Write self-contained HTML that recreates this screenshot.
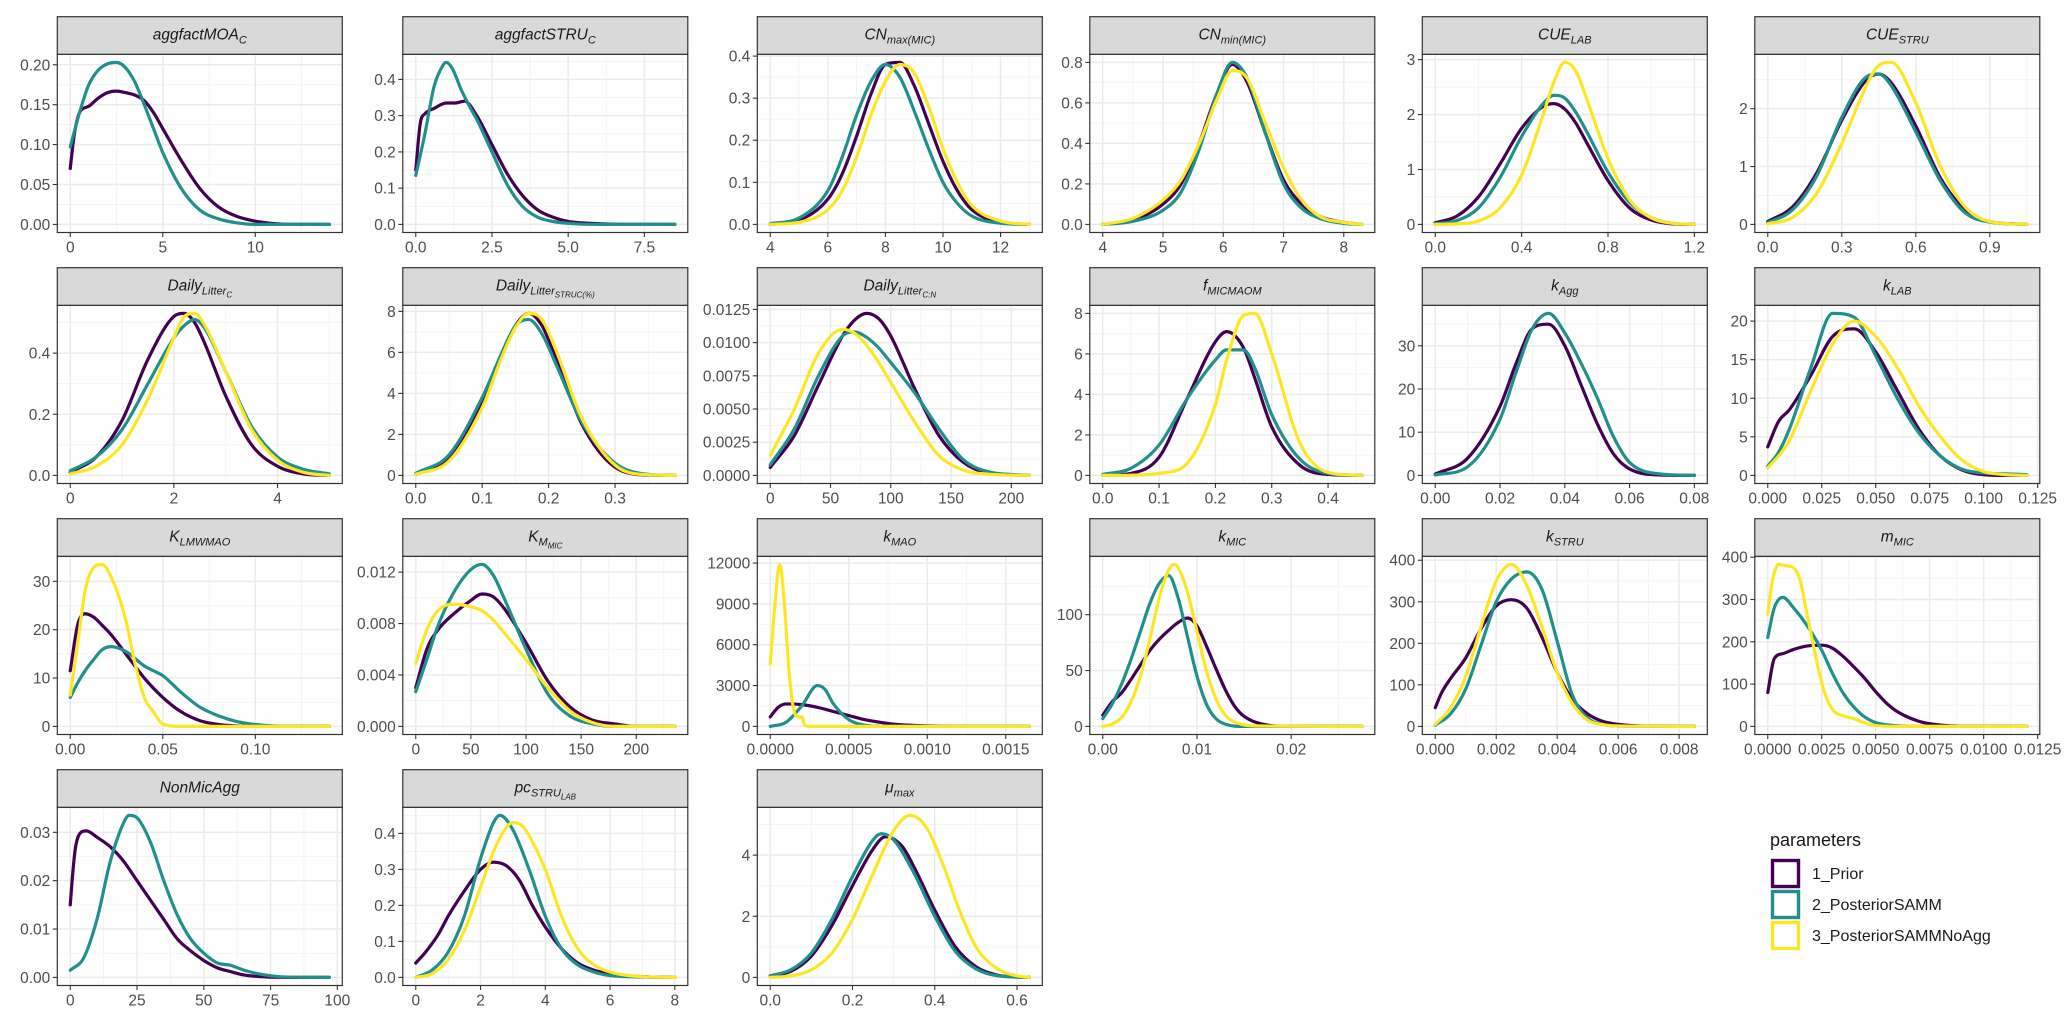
<!DOCTYPE html>
<html><head><meta charset="utf-8"><title>Parameter densities</title>
<style>
html,body{margin:0;padding:0;background:#fff;}
svg{display:block;font-family:"Liberation Sans",Arial,sans-serif;}
</style></head>
<body>
<svg id="chart" width="2067" height="1022" viewBox="0 0 2067 1022" xmlns="http://www.w3.org/2000/svg">
<rect x="0" y="0" width="2067" height="1022" fill="#fff"/>
<g id="panels"></g>
<g id="legend">
  <text x="1770" y="846" font-size="18" fill="#1a1a1a">parameters</text>
  <g>
    <rect x="1772.5" y="860.5" width="26" height="26" fill="#fff" stroke="#440154" stroke-width="3.4"/>
    <text x="1812" y="879" font-size="16" fill="#1a1a1a">1_Prior</text>
  </g>
  <g>
    <rect x="1772.5" y="891.5" width="26" height="26" fill="#fff" stroke="#21908C" stroke-width="3.4"/>
    <text x="1812" y="910" font-size="16" fill="#1a1a1a">2_PosteriorSAMM</text>
  </g>
  <g>
    <rect x="1772.5" y="922.5" width="26" height="26" fill="#fff" stroke="#FDE725" stroke-width="3.4"/>
    <text x="1812" y="941" font-size="16" fill="#1a1a1a">3_PosteriorSAMMNoAgg</text>
  </g>
</g>
</svg>
<script>
// ---------- data ----------
const seriesNames = ["1_Prior","2_PosteriorSAMM","3_PosteriorSAMMNoAgg"];
const seriesColors = ["#440154","#21908C","#FDE725"];

// P1 aggfactMOA_C
const p1_prior_x=[0,0.2,0.5,1,1.5,2,2.5,3,3.5,4,4.5,5,6,7,8,9,10,11,12,14];
const p1_prior_y=[0.07,0.11,0.14,0.148,0.158,0.165,0.167,0.165,0.162,0.155,0.14,0.12,0.08,0.045,0.022,0.01,0.004,0.001,0,0];
const p1_samm_x=[0,0.5,1,1.5,2,2.5,3,3.5,4,4.5,5,6,7,8,9,10,14];
const p1_samm_y=[0.097,0.14,0.175,0.193,0.201,0.203,0.196,0.178,0.15,0.12,0.09,0.045,0.018,0.007,0.002,0,0];
// P2 aggfactSTRU_C
const p2_prior_x=[0,0.15,0.3,0.6,1,1.3,1.6,2,2.5,3,3.5,4,4.5,5,6,7,8.5];
const p2_prior_y=[0.15,0.28,0.305,0.32,0.335,0.335,0.34,0.3,0.22,0.14,0.08,0.04,0.02,0.008,0.002,0,0];
const p2_samm_x=[0,0.3,0.6,0.9,1,1.2,1.5,1.8,2,2.5,3,3.5,4,4.5,5,6,8.5];
const p2_samm_y=[0.135,0.25,0.38,0.44,0.447,0.43,0.37,0.32,0.29,0.2,0.11,0.05,0.02,0.008,0.003,0,0];
// P3 CN_max(MIC)
const p3_x=[4,5,6,6.5,7,7.5,8,8.5,9,9.5,10,10.5,11,12,13];
const p3_prior_y=[0,0.01,0.06,0.12,0.21,0.31,0.38,0.385,0.33,0.24,0.15,0.08,0.035,0.005,0];
const p3_samm_y=[0.002,0.015,0.08,0.16,0.26,0.34,0.38,0.35,0.27,0.18,0.1,0.05,0.02,0.003,0];
const p3_noagg_y=[0,0.005,0.035,0.08,0.16,0.26,0.34,0.38,0.36,0.28,0.18,0.1,0.045,0.008,0];
// P4 CN_min(MIC)
const p4_x=[4,4.5,5,5.3,5.6,5.9,6.15,6.4,6.7,7,7.3,7.6,8,8.3];
const p4_prior_y=[0,0.02,0.1,0.2,0.4,0.65,0.79,0.7,0.45,0.22,0.1,0.04,0.01,0];
const p4_samm_y=[0,0.015,0.07,0.16,0.37,0.65,0.8,0.72,0.45,0.2,0.08,0.03,0.005,0];
const p4_noagg_y=[0,0.03,0.12,0.22,0.4,0.62,0.76,0.72,0.5,0.28,0.12,0.04,0.01,0];
// P5 CUE_LAB
const p5_x=[0,0.1,0.2,0.3,0.4,0.5,0.55,0.6,0.65,0.7,0.8,0.9,1.0,1.1,1.2];
const p5_prior_y=[0.03,0.15,0.5,1.1,1.75,2.15,2.2,2.1,1.85,1.5,0.8,0.3,0.08,0.01,0];
const p5_samm_y=[0.01,0.07,0.3,0.85,1.6,2.2,2.35,2.3,2.05,1.7,0.95,0.4,0.12,0.02,0];
const p5_noagg_y=[0,0.01,0.06,0.3,0.9,2.0,2.6,2.95,2.8,2.3,1.2,0.45,0.12,0.02,0];
// P6 CUE_STRU
const p6_x=[0,0.1,0.2,0.3,0.4,0.45,0.5,0.6,0.7,0.8,0.9,1.05];
const p6_prior_y=[0.05,0.3,0.9,1.8,2.5,2.6,2.45,1.7,0.8,0.25,0.05,0];
const p6_samm_y=[0.03,0.25,0.85,1.85,2.55,2.6,2.4,1.6,0.75,0.2,0.04,0];
const p6_noagg_y=[0.01,0.12,0.55,1.4,2.4,2.75,2.8,2.1,1.0,0.3,0.05,0];
// P7 Daily_Litter_C
const p7_x=[0,0.5,1,1.5,2,2.2,2.4,2.6,3,3.5,4,4.5,5];
const p7_prior_y=[0.01,0.06,0.18,0.38,0.52,0.53,0.5,0.43,0.26,0.1,0.03,0.005,0];
const p7_samm_y=[0.015,0.06,0.15,0.3,0.45,0.49,0.51,0.48,0.34,0.16,0.06,0.02,0.005];
const p7_noagg_y=[0.005,0.03,0.1,0.25,0.45,0.52,0.53,0.49,0.34,0.15,0.05,0.01,0];
// P8 Daily_Litter_STRUC(%)
const p8_x=[0,0.05,0.1,0.13,0.15,0.17,0.19,0.21,0.25,0.3,0.35,0.39];
const p8_prior_y=[0.05,0.8,3.5,6,7.3,7.9,7.3,5.8,2.5,0.4,0.02,0];
const p8_samm_y=[0.1,1,3.8,6,7.3,7.6,6.9,5.5,2.6,0.6,0.05,0];
const p8_noagg_y=[0.05,0.7,3.3,5.8,7.2,7.9,7.6,6.2,2.8,0.5,0.03,0];
// P9 Daily_Litter_C:N
const p9_x=[0,20,40,60,70,80,90,100,120,140,160,180,215];
const p9_prior_y=[0.0006,0.003,0.0068,0.0105,0.0117,0.0122,0.0118,0.0105,0.0065,0.003,0.001,0.0002,0];
const p9_samm_y=[0.0008,0.0035,0.0075,0.0105,0.0108,0.0104,0.0096,0.0085,0.0062,0.0035,0.0012,0.0003,0];
const p9_noagg_y=[0.0015,0.005,0.0092,0.011,0.0107,0.0098,0.0085,0.007,0.004,0.0015,0.0004,0.0001,0];
// P10 f_MICMAOM
const p10_x=[0,0.05,0.1,0.15,0.2,0.22,0.25,0.27,0.3,0.35,0.4,0.46];
const p10_prior_y=[0,0.1,0.9,3.8,6.6,7.1,6.3,4.8,2.4,0.5,0.05,0];
const p10_samm_y=[0.05,0.35,1.5,3.8,5.7,6.2,6.2,5.3,3.0,0.8,0.1,0];
const p10_noagg_y=[0,0.01,0.1,0.6,3.5,5.7,7.9,8.0,6.0,1.6,0.15,0];
// P11 k_Agg
const p11_x=[0,0.01,0.02,0.025,0.03,0.035,0.04,0.045,0.05,0.055,0.06,0.07,0.08];
const p11_prior_y=[0.3,4,16,26,34,35,30,21,12,5,1.5,0.1,0];
const p11_samm_y=[0.1,2,13,24,34,37.5,33,26,18,9,3,0.3,0];
// P12 k_LAB
const p12_x=[0,0.005,0.01,0.02,0.03,0.04,0.05,0.06,0.07,0.08,0.09,0.1,0.11,0.12];
const p12_prior_y=[3.7,7,8.5,13,18,19,16,11,6,2.5,0.7,0.1,0,0];
const p12_samm_y=[1.2,3,6,14,21,20.5,15.5,10,5.5,2.5,0.8,0.3,0.2,0.1];
const p12_noagg_y=[1,2.5,4.5,11,17,20,18,14,9,5,2,0.5,0.1,0];
// P13 K_LMWMAO
const p13_prior_x=[0,0.004,0.008,0.013,0.017,0.022,0.03,0.04,0.05,0.06,0.07,0.08,0.09,0.1,0.12,0.14];
const p13_prior_y=[11.5,21,23.3,22.5,21,19,15,10,6,3,1.2,0.4,0.1,0,0,0];
const p13_samm_x=[0,0.004,0.008,0.013,0.017,0.022,0.03,0.04,0.045,0.05,0.06,0.07,0.08,0.09,0.1,0.12,0.14];
const p13_samm_y=[6,9,11.5,14,15.8,16.5,15.5,12.5,11.5,10.5,7,4,2.2,1,0.4,0,0];
const p13_noagg_x=[0,0.004,0.008,0.013,0.017,0.022,0.03,0.035,0.04,0.045,0.05,0.06,0.08,0.14];
const p13_noagg_y=[6.5,17,28,33,33.5,31,22,13,6,3,0.5,0,0,0];
// P14 K_M_MIC
const p14_x=[0,10,20,35,50,60,70,80,100,120,140,160,180,200,235];
const p14_prior_y=[0.003,0.006,0.0075,0.0088,0.0098,0.0103,0.0101,0.0092,0.0065,0.0035,0.0015,0.0005,0.0002,0,0];
const p14_samm_y=[0.0027,0.0052,0.0078,0.0105,0.0122,0.0126,0.0118,0.01,0.006,0.0025,0.0008,0.0002,0,0,0];
const p14_noagg_y=[0.0049,0.0075,0.009,0.0095,0.0093,0.009,0.0083,0.0073,0.0052,0.003,0.0012,0.0003,0,0,0];
// P15 k_MAO
const p15_prior_x=[0,0.00005,0.0001,0.0002,0.0003,0.0004,0.0005,0.0006,0.0007,0.0008,0.001,0.0012,0.00165];
const p15_prior_y=[700,1400,1650,1600,1400,1100,800,500,300,150,40,5,0];
const p15_samm_x=[0,0.0001,0.0002,0.0003,0.00035,0.0004,0.0005,0.0006,0.0007,0.00165];
const p15_samm_y=[0,300,1500,3000,2700,1700,500,100,10,0];
const p15_noagg_x=[0,0.00003,0.00006,0.00009,0.00012,0.00015,0.00018,0.0002,0.00022,0.00025,0.00165];
const p15_noagg_y=[4600,9000,11900,9000,4000,1200,700,700,100,0,0];
// P16 k_MIC
const p16_prior_x=[0,0.001,0.002,0.003,0.004,0.005,0.006,0.007,0.008,0.009,0.010,0.011,0.012,0.013,0.014,0.015,0.017,0.02,0.0275];
const p16_prior_y=[10,22,30,42,55,68,78,86,93,97,90,72,52,33,18,9,2,0,0];
const p16_samm_x=[0,0.001,0.002,0.003,0.004,0.005,0.006,0.007,0.008,0.009,0.010,0.011,0.012,0.013,0.015,0.0275];
const p16_samm_y=[7,20,38,60,85,110,128,135,115,80,45,20,7,2,0,0];
const p16_noagg_x=[0,0.001,0.002,0.003,0.004,0.005,0.006,0.007,0.0076,0.008,0.009,0.010,0.011,0.012,0.013,0.014,0.016,0.0275];
const p16_noagg_y=[0,2,8,22,45,78,115,140,145,142,120,85,50,25,10,4,0.5,0];
// P17 k_STRU
const p17_prior_x=[0,0.0002,0.0005,0.001,0.0015,0.002,0.0025,0.003,0.0035,0.004,0.0045,0.005,0.0055,0.006,0.007,0.0085];
const p17_prior_y=[45,80,115,165,235,290,305,285,215,130,65,30,12,5,0.5,0];
const p17_samm_x=[0,0.0005,0.001,0.0015,0.002,0.0025,0.003,0.0035,0.004,0.0045,0.005,0.0055,0.006,0.0085];
const p17_samm_y=[3,30,90,195,300,355,372,330,205,75,20,5,1,0];
const p17_noagg_x=[0,0.0005,0.001,0.0015,0.002,0.0025,0.003,0.0035,0.004,0.0045,0.005,0.0055,0.006,0.0085];
const p17_noagg_y=[5,45,120,240,350,390,340,240,130,55,15,4,1,0];
// P18 m_MIC
const p18_prior_x=[0,0.0003,0.0007,0.0012,0.0018,0.0025,0.003,0.0035,0.004,0.0045,0.005,0.0055,0.006,0.007,0.008,0.009,0.012];
const p18_prior_y=[80,160,172,182,190,192,185,165,140,113,82,55,35,12,3,0.5,0];
const p18_samm_x=[0,0.0003,0.0007,0.0012,0.0018,0.0025,0.003,0.0035,0.004,0.0045,0.005,0.006,0.007,0.012];
const p18_samm_y=[210,280,305,280,240,180,125,78,45,22,9,1.5,0,0];
const p18_noagg_x=[0,0.0002,0.0005,0.0008,0.0012,0.0015,0.0018,0.0022,0.0026,0.003,0.0035,0.004,0.0045,0.005,0.006,0.012];
const p18_noagg_y=[265,340,383,380,375,345,270,170,85,40,25,18,8,2,0,0];
// P19 NonMicAgg
const p19_prior_x=[0,1,2,4,6,10,15,20,25,30,35,40,45,50,55,60,65,70,80,97];
const p19_prior_y=[0.015,0.022,0.027,0.030,0.0303,0.029,0.027,0.024,0.02,0.016,0.012,0.008,0.0055,0.0035,0.002,0.0012,0.0005,0.0002,0,0];
const p19_samm_x=[0,5,10,15,20,22,25,30,35,40,45,50,55,60,65,70,80,97];
const p19_samm_y=[0.0015,0.004,0.012,0.024,0.032,0.0335,0.033,0.028,0.02,0.013,0.008,0.005,0.003,0.0025,0.0015,0.0008,0.0001,0];
// P20 pc_STRU_LAB
const p20_prior_x=[0,0.3,0.7,1,1.5,2,2.4,2.8,3.2,3.6,4,4.5,5,5.5,6,7,8];
const p20_prior_y=[0.04,0.07,0.12,0.17,0.24,0.3,0.32,0.31,0.27,0.2,0.14,0.08,0.04,0.02,0.01,0.002,0];
const p20_samm_x=[0,0.5,1,1.5,2,2.4,2.6,3,3.5,4,4.5,5,5.5,6,7,8];
const p20_samm_y=[0,0.02,0.07,0.17,0.33,0.43,0.45,0.41,0.3,0.17,0.08,0.035,0.015,0.005,0.001,0];
const p20_noagg_x=[0,0.5,1,1.5,2,2.5,3,3.3,3.7,4,4.5,5,5.5,6,7,8];
const p20_noagg_y=[0,0.01,0.05,0.13,0.25,0.37,0.43,0.42,0.36,0.3,0.17,0.08,0.035,0.015,0.002,0];
// P21 mu_max
const p21_prior_x=[0,0.05,0.1,0.15,0.2,0.25,0.28,0.32,0.35,0.4,0.45,0.5,0.55,0.6,0.63];
const p21_prior_y=[0.05,0.2,0.7,1.7,3.0,4.2,4.6,4.3,3.6,2.2,1.0,0.35,0.08,0.01,0];
const p21_samm_x=[0,0.05,0.1,0.15,0.2,0.25,0.27,0.3,0.35,0.4,0.45,0.5,0.55,0.63];
const p21_samm_y=[0.05,0.25,0.8,1.9,3.3,4.5,4.7,4.5,3.4,2.0,0.85,0.28,0.06,0];
const p21_noagg_x=[0,0.05,0.1,0.15,0.2,0.25,0.3,0.34,0.38,0.42,0.46,0.5,0.55,0.6,0.63];
const p21_noagg_y=[0,0.05,0.25,0.8,1.9,3.4,4.8,5.3,4.9,3.7,2.2,1.0,0.3,0.05,0];

// tick labels per panel
const p1_xt=["0","5","10"], p1_yt=["0.00","0.05","0.10","0.15","0.20"];
const p2_xt=["0.0","2.5","5.0","7.5"], p2_yt=["0.0","0.1","0.2","0.3","0.4"];
const p3_xt=["4","6","8","10","12"], p3_yt=["0.0","0.1","0.2","0.3","0.4"];
const p4_xt=["4","5","6","7","8"], p4_yt=["0.0","0.2","0.4","0.6","0.8"];
const p5_xt=["0.0","0.4","0.8","1.2"], p5_yt=["0","1","2","3"];
const p6_xt=["0.0","0.3","0.6","0.9"], p6_yt=["0","1","2"];
const p7_xt=["0","2","4"], p7_yt=["0.0","0.2","0.4"];
const p8_xt=["0.0","0.1","0.2","0.3"], p8_yt=["0","2","4","6","8"];
const p9_xt=["0","50","100","150","200"], p9_yt=["0.0000","0.0025","0.0050","0.0075","0.0100","0.0125"];
const p10_xt=["0.0","0.1","0.2","0.3","0.4"], p10_yt=["0","2","4","6","8"];
const p11_xt=["0.00","0.02","0.04","0.06","0.08"], p11_yt=["0","10","20","30"];
const p12_xt=["0.000","0.025","0.050","0.075","0.100","0.125"], p12_yt=["0","5","10","15","20"];
const p13_xt=["0.00","0.05","0.10"], p13_yt=["0","10","20","30"];
const p14_xt=["0","50","100","150","200"], p14_yt=["0.000","0.004","0.008","0.012"];
const p15_xt=["0.0000","0.0005","0.0010","0.0015"], p15_yt=["0","3000","6000","9000","12000"];
const p16_xt=["0.00","0.01","0.02"], p16_yt=["0","50","100"];
const p17_xt=["0.000","0.002","0.004","0.006","0.008"], p17_yt=["0","100","200","300","400"];
const p18_xt=["0.0000","0.0025","0.0050","0.0075","0.0100","0.0125"], p18_yt=["0","100","200","300","400"];
const p19_xt=["0","25","50","75","100"], p19_yt=["0.00","0.01","0.02","0.03"];
const p20_xt=["0","2","4","6","8"], p20_yt=["0.0","0.1","0.2","0.3","0.4"];
const p21_xt=["0.0","0.2","0.4","0.6"], p21_yt=["0","2","4"];

// ---------- panel structure ----------
const panels = [
 {name:"aggfactMOA-C", label:'aggfactMOA<tspan dy="4" font-size="11">C</tspan>', xt:p1_xt, yt:p1_yt, s:[[p1_prior_x,p1_prior_y,0],[p1_samm_x,p1_samm_y,1]]},
 {name:"aggfactSTRU-C", label:'aggfactSTRU<tspan dy="4" font-size="11">C</tspan>', xt:p2_xt, yt:p2_yt, s:[[p2_prior_x,p2_prior_y,0],[p2_samm_x,p2_samm_y,1]]},
 {name:"CN-max-MIC", label:'CN<tspan dy="4" font-size="11">max(MIC)</tspan>', xt:p3_xt, yt:p3_yt, s:[[p3_x,p3_prior_y,0],[p3_x,p3_samm_y,1],[p3_x,p3_noagg_y,2]]},
 {name:"CN-min-MIC", label:'CN<tspan dy="4" font-size="11">min(MIC)</tspan>', xt:p4_xt, yt:p4_yt, s:[[p4_x,p4_prior_y,0],[p4_x,p4_samm_y,1],[p4_x,p4_noagg_y,2]]},
 {name:"CUE-LAB", label:'CUE<tspan dy="4" font-size="11">LAB</tspan>', xt:p5_xt, yt:p5_yt, s:[[p5_x,p5_prior_y,0],[p5_x,p5_samm_y,1],[p5_x,p5_noagg_y,2]]},
 {name:"CUE-STRU", label:'CUE<tspan dy="4" font-size="11">STRU</tspan>', xt:p6_xt, yt:p6_yt, s:[[p6_x,p6_prior_y,0],[p6_x,p6_samm_y,1],[p6_x,p6_noagg_y,2]]},
 {name:"Daily-Litter-C", label:'Daily<tspan dy="4" font-size="11">Litter</tspan><tspan dy="3" font-size="8">C</tspan>', xt:p7_xt, yt:p7_yt, s:[[p7_x,p7_prior_y,0],[p7_x,p7_samm_y,1],[p7_x,p7_noagg_y,2]]},
 {name:"Daily-Litter-STRUC", label:'Daily<tspan dy="4" font-size="11">Litter</tspan><tspan dy="3" font-size="8">STRUC(%)</tspan>', xt:p8_xt, yt:p8_yt, s:[[p8_x,p8_prior_y,0],[p8_x,p8_samm_y,1],[p8_x,p8_noagg_y,2]]},
 {name:"Daily-Litter-CN", label:'Daily<tspan dy="4" font-size="11">Litter</tspan><tspan dy="3" font-size="8">C:N</tspan>', xt:p9_xt, yt:p9_yt, s:[[p9_x,p9_prior_y,0],[p9_x,p9_samm_y,1],[p9_x,p9_noagg_y,2]]},
 {name:"f-MICMAOM", label:'f<tspan dy="4" font-size="11">MICMAOM</tspan>', xt:p10_xt, yt:p10_yt, s:[[p10_x,p10_prior_y,0],[p10_x,p10_samm_y,1],[p10_x,p10_noagg_y,2]]},
 {name:"k-Agg", label:'k<tspan dy="4" font-size="11">Agg</tspan>', xt:p11_xt, yt:p11_yt, s:[[p11_x,p11_prior_y,0],[p11_x,p11_samm_y,1]]},
 {name:"k-LAB", label:'k<tspan dy="4" font-size="11">LAB</tspan>', xt:p12_xt, yt:p12_yt, s:[[p12_x,p12_prior_y,0],[p12_x,p12_samm_y,1],[p12_x,p12_noagg_y,2]]},
 {name:"K-LMWMAO", label:'K<tspan dy="4" font-size="11">LMWMAO</tspan>', xt:p13_xt, yt:p13_yt, s:[[p13_prior_x,p13_prior_y,0],[p13_samm_x,p13_samm_y,1],[p13_noagg_x,p13_noagg_y,2]]},
 {name:"K-M-MIC", label:'K<tspan dy="4" font-size="11">M</tspan><tspan dy="3" font-size="8">MIC</tspan>', xt:p14_xt, yt:p14_yt, s:[[p14_x,p14_prior_y,0],[p14_x,p14_samm_y,1],[p14_x,p14_noagg_y,2]]},
 {name:"k-MAO", label:'k<tspan dy="4" font-size="11">MAO</tspan>', xt:p15_xt, yt:p15_yt, s:[[p15_prior_x,p15_prior_y,0],[p15_samm_x,p15_samm_y,1],[p15_noagg_x,p15_noagg_y,2]]},
 {name:"k-MIC", label:'k<tspan dy="4" font-size="11">MIC</tspan>', xt:p16_xt, yt:p16_yt, s:[[p16_prior_x,p16_prior_y,0],[p16_samm_x,p16_samm_y,1],[p16_noagg_x,p16_noagg_y,2]]},
 {name:"k-STRU", label:'k<tspan dy="4" font-size="11">STRU</tspan>', xt:p17_xt, yt:p17_yt, s:[[p17_prior_x,p17_prior_y,0],[p17_samm_x,p17_samm_y,1],[p17_noagg_x,p17_noagg_y,2]]},
 {name:"m-MIC", label:'m<tspan dy="4" font-size="11">MIC</tspan>', xt:p18_xt, yt:p18_yt, s:[[p18_prior_x,p18_prior_y,0],[p18_samm_x,p18_samm_y,1],[p18_noagg_x,p18_noagg_y,2]]},
 {name:"NonMicAgg", label:'NonMicAgg', xt:p19_xt, yt:p19_yt, s:[[p19_prior_x,p19_prior_y,0],[p19_samm_x,p19_samm_y,1]]},
 {name:"pc-STRU-LAB", label:'pc<tspan dy="4" font-size="11">STRU</tspan><tspan dy="3" font-size="8">LAB</tspan>', xt:p20_xt, yt:p20_yt, s:[[p20_prior_x,p20_prior_y,0],[p20_samm_x,p20_samm_y,1],[p20_noagg_x,p20_noagg_y,2]]},
 {name:"mu-max", label:'μ<tspan dy="4" font-size="11">max</tspan>', xt:p21_xt, yt:p21_yt, s:[[p21_prior_x,p21_prior_y,0],[p21_samm_x,p21_samm_y,1],[p21_noagg_x,p21_noagg_y,2]]}
];

// ---------- layout ----------
const colLeft=[57.3,402.8,757.3,1089.8,1422.3,1754.8];
const panelW=285, rowPitch=251, firstStrip=16.7, stripH=37.6, plotBottomOff=215.8;
const NS="http://www.w3.org/2000/svg";
const root=document.getElementById('panels');
function mk(tag,attrs,parent){const e=document.createElementNS(NS,tag);for(const k in attrs)e.setAttribute(k,attrs[k]);if(parent)parent.appendChild(e);return e;}

function linScale(d0,d1,r0,r1){return v=>r0+(v-d0)/(d1-d0)*(r1-r0);}

function monoPath(P){
  const n=P.length; if(n<2) return "";
  const d=[],m=[];
  for(let i=0;i<n-1;i++){d[i]=(P[i+1][1]-P[i][1])/(P[i+1][0]-P[i][0]);}
  m[0]=d[0]; m[n-1]=d[n-2];
  for(let i=1;i<n-1;i++){ m[i]=(d[i-1]*d[i]<=0)?0:(d[i-1]+d[i])/2; }
  for(let i=0;i<n-1;i++){
    if(d[i]===0){m[i]=0;m[i+1]=0;continue;}
    const a=m[i]/d[i], b=m[i+1]/d[i], s=a*a+b*b;
    if(s>9){const t=3/Math.sqrt(s); m[i]=t*a*d[i]; m[i+1]=t*b*d[i];}
  }
  let p="M"+P[0][0].toFixed(2)+","+P[0][1].toFixed(2);
  for(let i=0;i<n-1;i++){
    const h=(P[i+1][0]-P[i][0])/3;
    p+="C"+(P[i][0]+h).toFixed(2)+","+(P[i][1]+m[i]*h).toFixed(2)+" "+(P[i+1][0]-h).toFixed(2)+","+(P[i+1][1]-m[i+1]*h).toFixed(2)+" "+P[i+1][0].toFixed(2)+","+P[i+1][1].toFixed(2);
  }
  return p;
}

panels.forEach((pn,idx)=>{
  const c=idx%6, r=Math.floor(idx/6);
  const L=colLeft[c], R=L+panelW;
  const sT=firstStrip+r*rowPitch, pT=sT+stripH, pB=sT+plotBottomOff;
  let xmin=Infinity,xmax=-Infinity,ymin=0,ymax=-Infinity;
  pn.s.forEach(s=>{s[0].forEach(v=>{xmin=Math.min(xmin,v);xmax=Math.max(xmax,v);}); s[1].forEach(v=>{ymin=Math.min(ymin,v);ymax=Math.max(ymax,v);});});
  const xe=(xmax-xmin)*0.05, ye=(ymax-ymin)*0.05;
  const sx=linScale(xmin-xe,xmax+xe,L,R), sy=linScale(ymin-ye,ymax+ye,pB,pT);

  const g=mk('g',{},root);
  
  
  const clipId='clip'+idx;
  const cp=mk('clipPath',{id:clipId},g); mk('rect',{x:L,y:pT,width:panelW,height:pB-pT},cp);
  mk('rect',{x:L,y:pT,width:panelW,height:pB-pT,fill:'#fff'},g);

  const xv=pn.xt.map(parseFloat), yv=pn.yt.map(parseFloat);
  const grid=mk('g',{'clip-path':'url(#'+clipId+')'},g);
  
  
  // minor grid
  const minorX=[],minorY=[];
  const dxT=xv.length>1?xv[1]-xv[0]:1, dyT=yv.length>1?yv[1]-yv[0]:1;
  for(let v=xv[0]-dxT/2; v<=xv[xv.length-1]+dxT; v+=dxT) minorX.push(v);
  for(let v=yv[0]-dyT/2; v<=yv[yv.length-1]+dyT; v+=dyT) minorY.push(v);
  minorX.forEach(v=>mk('line',{x1:sx(v),x2:sx(v),y1:pT,y2:pB,stroke:'#f2f2f2','stroke-width':0.8},grid));
  minorY.forEach(v=>mk('line',{x1:L,x2:R,y1:sy(v),y2:sy(v),stroke:'#f2f2f2','stroke-width':0.8},grid));
  xv.forEach(v=>mk('line',{x1:sx(v),x2:sx(v),y1:pT,y2:pB,stroke:'#ebebeb','stroke-width':1.5},grid));
  yv.forEach(v=>mk('line',{x1:L,x2:R,y1:sy(v),y2:sy(v),stroke:'#ebebeb','stroke-width':1.5},grid));

  // series (draw in order prior, samm, noagg)
  const lines=mk('g',{'clip-path':'url(#'+clipId+')'},g);
  pn.s.forEach(s=>{
    const pts=s[0].map((x,i)=>[sx(x),sy(s[1][i])]);
    const path=mk('path',{d:monoPath(pts),fill:'none',stroke:seriesColors[s[2]],'stroke-width':3.2,'stroke-linejoin':'round','stroke-linecap':'round'},lines);
    
    
  });

  // panel border
  mk('rect',{x:L,y:pT,width:panelW,height:pB-pT,fill:'none',stroke:'#333','stroke-width':1.2},g);
  // strip
  const strip=mk('g',{},g);
  
  
  mk('rect',{x:L,y:sT,width:panelW,height:stripH,fill:'#d9d9d9',stroke:'#333','stroke-width':1.2},strip);
  const st=mk('text',{x:L+panelW/2,y:sT+stripH/2+4,'text-anchor':'middle','font-size':15.5,'font-style':'italic',fill:'#1a1a1a'},strip);
  st.innerHTML=pn.label;

  // axes
  const xa=mk('g',{},g);
  
  
  pn.xt.forEach((lab,i)=>{
    const X=sx(xv[i]);
    mk('line',{x1:X,x2:X,y1:pB,y2:pB+4.5,stroke:'#333','stroke-width':1.1},xa);
    const t=mk('text',{x:X,y:pB+20,'text-anchor':'middle','font-size':15.5,fill:'#4d4d4d'},xa);
    t.textContent=lab;
  });
  const ya=mk('g',{},g);
  
  
  pn.yt.forEach((lab,i)=>{
    const Y=sy(yv[i]);
    mk('line',{x1:L-4.5,x2:L,y1:Y,y2:Y,stroke:'#333','stroke-width':1.1},ya);
    const t=mk('text',{x:L-7,y:Y+5.5,'text-anchor':'end','font-size':15.5,fill:'#4d4d4d'},ya);
    t.textContent=lab;
  });
});
</script>
</body></html>
